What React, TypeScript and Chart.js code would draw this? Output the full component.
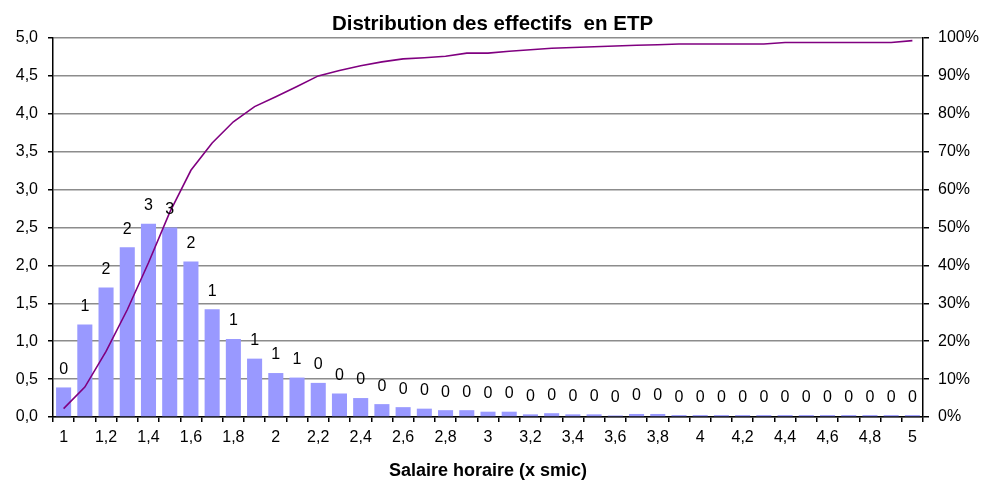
import React, { useEffect, useRef } from "react";
import { Chart, registerables } from "chart.js";

Chart.register(...registerables);

const categories = [
  "1", "1,1", "1,2", "1,3", "1,4", "1,5", "1,6", "1,7", "1,8", "1,9",
  "2", "2,1", "2,2", "2,3", "2,4", "2,5", "2,6", "2,7", "2,8", "2,9",
  "3", "3,1", "3,2", "3,3", "3,4", "3,5", "3,6", "3,7", "3,8", "3,9",
  "4", "4,1", "4,2", "4,3", "4,4", "4,5", "4,6", "4,7", "4,8", "4,9",
  "5",
];

const effectifs = [
  0.39, 1.22, 1.71, 2.24, 2.55, 2.5, 2.05, 1.42, 1.03, 0.77,
  0.58, 0.52, 0.45, 0.31, 0.25, 0.17, 0.13, 0.11, 0.09, 0.09,
  0.07, 0.07, 0.035, 0.05, 0.035, 0.035, 0.02, 0.04, 0.04, 0.025,
  0.025, 0.025, 0.025, 0.025, 0.025, 0.025, 0.025, 0.025, 0.025, 0.025,
  0.025,
];

const cumul = [
  2.2, 7.9, 17.3, 28.3, 40.7, 54.0, 65.1, 72.3, 77.9, 81.9,
  84.5, 87.2, 90.0, 91.4, 92.7, 93.7, 94.5, 94.8, 95.2, 96.0,
  96.0, 96.5, 96.9, 97.3, 97.5, 97.7, 97.9, 98.1, 98.2, 98.4,
  98.4, 98.4, 98.4, 98.4, 98.8, 98.8, 98.8, 98.8, 98.8, 98.8,
  99.3,
];

const chartTitle = "Distribution des effectifs  en ETP";
const xTitle = "Salaire horaire (x smic)";

const FONT = "'Liberation Sans', Arial, sans-serif";

export default function App() {
  const ref = useRef<HTMLCanvasElement>(null);

  useEffect(() => {
    if (!ref.current) return;
    const labelPlugin = {
      id: "barLabels",
      afterDatasetsDraw(chart: any) {
        const ctx = chart.ctx;
        const idx = chart.data.datasets.findIndex((d: any) => d.type === "bar");
        const meta = chart.getDatasetMeta(idx);
        ctx.save();
        ctx.font = `16px ${FONT}`;
        ctx.fillStyle = "#000";
        ctx.textAlign = "center";
        ctx.textBaseline = "middle";
        meta.data.forEach((el: any, i: number) => {
          ctx.fillText(String(Math.round(effectifs[i])), el.x, el.y - 18);
        });
        ctx.restore();
      },
    };

    const chart = new Chart(ref.current, {
      type: "bar",
      data: {
        labels: categories,
        datasets: [
          {
            type: "line",
            data: cumul,
            yAxisID: "y1",
            borderColor: "#800080",
            borderWidth: 1.6,
            pointRadius: 0,
            tension: 0,
            order: 1,
          } as any,
          {
            type: "bar",
            data: effectifs,
            yAxisID: "y",
            backgroundColor: "#9999ff",
            barPercentage: 0.71,
            categoryPercentage: 1,
            order: 2,
          } as any,
        ],
      },
      options: {
        responsive: false,
        animation: false,
        layout: { padding: 0 },
        plugins: {
          legend: { display: false },
          tooltip: { enabled: false },
          title: {
            display: true,
            text: chartTitle,
            color: "#000",
            font: { family: FONT, size: 20.5, weight: "bold", lineHeight: 1.2 },
            padding: { top: 12, bottom: 1.4 },
          },
        },
        scales: {
          x: {
            grid: {
              drawOnChartArea: false,
              offset: true,
              tickColor: "#000",
              tickLength: 5,
              lineWidth: 1.5,
            },
            border: { color: "#000", width: 1.5 },
            ticks: {
              autoSkip: false,
              maxRotation: 0,
              minRotation: 0,
              color: "#000",
              font: { family: FONT, size: 16 },
              padding: 6,
              callback: (_v: any, i: number) => (i % 2 === 0 ? categories[i] : ""),
            },
            title: {
              display: true,
              text: xTitle,
              color: "#000",
              font: { family: FONT, size: 18, weight: "bold", lineHeight: 1 },
              padding: { top: 0, bottom: 0 },
            },
            afterFit: (s: any) => {
              s.height = 63;
            },
          },
          y: {
            position: "left",
            min: 0,
            max: 5,
            ticks: {
              stepSize: 0.5,
              color: "#000",
              font: { family: FONT, size: 16 },
              padding: 10,
              callback: (v: any) => Number(v).toFixed(1).replace(".", ","),
            },
            grid: { color: "#8c8c8c", lineWidth: 1.5, tickColor: "#000", tickLength: 5 },
            border: { color: "#000", width: 1.5 },
            afterFit: (s: any) => {
              s.width = 53;
            },
          },
          y1: {
            position: "right",
            min: 0,
            max: 100,
            ticks: {
              stepSize: 10,
              color: "#000",
              font: { family: FONT, size: 16 },
              padding: 9,
              callback: (v: any) => `${v}%`,
            },
            grid: { drawOnChartArea: false, tickColor: "#000", tickLength: 6, lineWidth: 1.5 },
            border: { color: "#000", width: 1.5 },
            afterFit: (s: any) => {
              s.width = 62;
            },
          },
        },
      } as any,
      plugins: [labelPlugin],
    });
    return () => chart.destroy();
  }, []);

  return (
    <div style={{ position: "fixed", left: 0, top: 0, width: 985, height: 480, background: "#fff" }}>
      <canvas ref={ref} width={985} height={480} style={{ display: "block" }} />
    </div>
  );
}
